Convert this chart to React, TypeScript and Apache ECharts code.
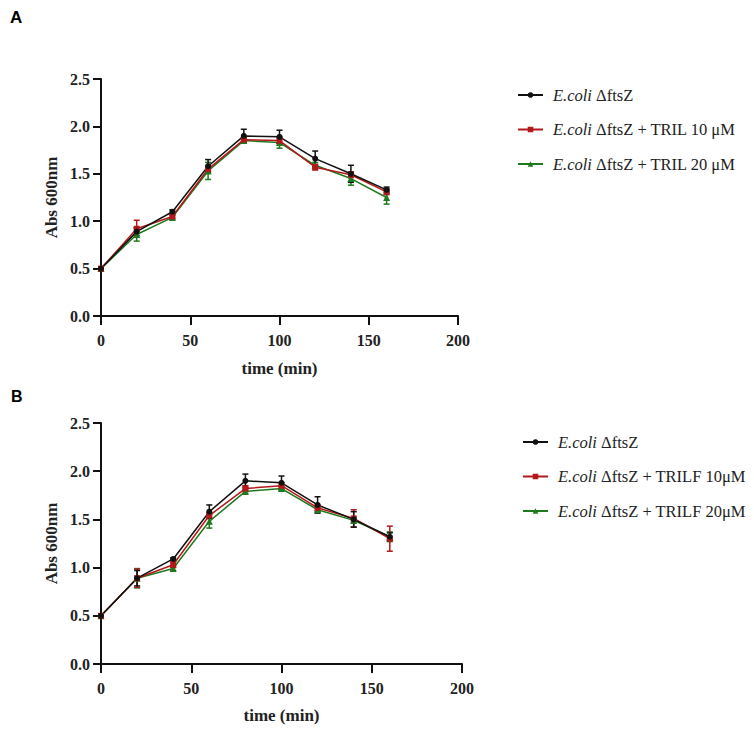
import React, { useEffect, useRef } from "react";
import * as echarts from "echarts";

const times = [0, 20, 40, 60, 80, 100, 120, 140, 160];
const yTicks = [0, 0.5, 1.0, 1.5, 2.0, 2.5];
const xTicks = [0, 50, 100, 150, 200];

// Panel A
const aBlack = [0.5, 0.89, 1.1, 1.58, 1.9, 1.89, 1.66, 1.5, 1.33];
const aBlackErr = [0.01, 0.04, 0.02, 0.07, 0.07, 0.07, 0.08, 0.09, 0.03];
const aRed = [0.5, 0.92, 1.05, 1.55, 1.86, 1.85, 1.57, 1.49, 1.31];
const aRedErr = [0.01, 0.09, 0.02, 0.03, 0.02, 0.03, 0.03, 0.03, 0.03];
const aGreen = [0.5, 0.86, 1.04, 1.53, 1.85, 1.83, 1.59, 1.45, 1.25];
const aGreenErr = [0.01, 0.07, 0.02, 0.09, 0.02, 0.06, 0.03, 0.07, 0.07];

// Panel B
const bBlack = [0.5, 0.89, 1.09, 1.58, 1.9, 1.88, 1.65, 1.5, 1.32];
const bBlackErr = [0.01, 0.08, 0.01, 0.07, 0.07, 0.07, 0.085, 0.08, 0.04];
const bRed = [0.5, 0.89, 1.03, 1.54, 1.82, 1.85, 1.62, 1.51, 1.3];
const bRedErr = [0.01, 0.095, 0.03, 0.03, 0.03, 0.03, 0.03, 0.09, 0.13];
const bGreen = [0.5, 0.89, 0.99, 1.48, 1.79, 1.82, 1.6, 1.49, 1.32];
const bGreenErr = [0.01, 0.1, 0.02, 0.07, 0.02, 0.02, 0.02, 0.03, 0.05];

const legendA = ["ΔftsZ", "ΔftsZ + TRIL 10 μM", "ΔftsZ + TRIL 20 μM"];
const legendB = ["ΔftsZ", "ΔftsZ + TRILF 10μM", "ΔftsZ + TRILF 20μM"];
const species = "E.coli";
const panelLabels = ["A", "B"];
const yName = "Abs 600nm";
const xName = "time (min)";

const BLACK = "#111111";
const RED = "#b3181b";
const GREEN = "#1f7a1f";
const SERIF = "Liberation Serif";

export default function App() {
  const ref = useRef<HTMLDivElement>(null);
  useEffect(() => {
    if (!ref.current) return;
    const chart = echarts.init(ref.current, null, { renderer: "svg" });

    const mkAxisX = (gi: number, gap: number) => ({
      type: "value",
      gridIndex: gi,
      min: xTicks[0],
      max: xTicks[xTicks.length - 1],
      interval: 50,
      name: xName,
      nameLocation: "middle",
      nameGap: gap,
      nameTextStyle: { fontFamily: SERIF, fontWeight: "bold", fontSize: 17, color: "#222" },
      axisLine: { show: true, lineStyle: { color: "#111", width: 2 } },
      axisTick: { show: true, length: 9, lineStyle: { color: "#111", width: 2 } },
      axisLabel: { margin: 16, fontFamily: SERIF, fontWeight: "bold", fontSize: 16, color: "#222" },
      splitLine: { show: false },
    });
    const mkAxisY = (gi: number) => ({
      type: "value",
      gridIndex: gi,
      min: yTicks[0],
      max: yTicks[yTicks.length - 1],
      interval: 0.5,
      name: yName,
      nameLocation: "middle",
      nameGap: 41,
      nameTextStyle: { fontFamily: SERIF, fontWeight: "bold", fontSize: 17, color: "#222" },
      axisLine: { show: true, lineStyle: { color: "#111", width: 2 } },
      axisTick: { show: true, length: 8, lineStyle: { color: "#111", width: 2 } },
      axisLabel: {
        margin: 11,
        fontFamily: SERIF,
        fontWeight: "bold",
        fontSize: 16,
        color: "#222",
        formatter: (v: number) => v.toFixed(1),
      },
      splitLine: { show: false },
    });

    const lineSeries = (name: string, gi: number, vals: number[], color: string, symbol: string, size: number) => ({
      type: "line",
      name,
      xAxisIndex: gi,
      yAxisIndex: gi,
      data: times.map((t, i) => [t, vals[i]]),
      symbol,
      symbolSize: size,
      showAllSymbol: true,
      lineStyle: { color, width: 1.5 },
      itemStyle: { color },
      z: 3,
    });
    const errSeries = (gi: number, vals: number[], errs: number[], color: string) => ({
      type: "custom",
      xAxisIndex: gi,
      yAxisIndex: gi,
      data: times.map((t, i) => [t, vals[i] - errs[i], vals[i] + errs[i]]),
      encode: { x: 0, y: [1, 2] },
      z: 3,
      renderItem: (_p: any, api: any) => {
        const x = api.value(0);
        const lo = api.coord([x, api.value(1)]);
        const hi = api.coord([x, api.value(2)]);
        const w = 3;
        const style = { stroke: color, lineWidth: 1.5 };
        return {
          type: "group",
          children: [
            { type: "line", shape: { x1: lo[0], y1: lo[1], x2: hi[0], y2: hi[1] }, style },
            { type: "line", shape: { x1: lo[0] - w, y1: lo[1], x2: lo[0] + w, y2: lo[1] }, style },
            { type: "line", shape: { x1: hi[0] - w, y1: hi[1], x2: hi[0] + w, y2: hi[1] }, style },
          ],
        };
      },
    });

    const namesA = ["A0", "A1", "A2"];
    const namesB = ["B0", "B1", "B2"];
    const labelMap: Record<string, string> = {};
    namesA.forEach((n, i) => (labelMap[n] = legendA[i]));
    namesB.forEach((n, i) => (labelMap[n] = legendB[i]));

    const legendCommon = {
      orient: "vertical",
      itemWidth: 25,
      itemHeight: 7,
      itemGap: 16.5,
      textStyle: {
        fontFamily: SERIF,
        fontSize: 16.5,
        color: "#222",
        lineHeight: 18,
        padding: [0, 0, 0, 5],
        rich: {
          i: { fontFamily: SERIF, fontSize: 16.5, fontStyle: "italic", color: "#222", lineHeight: 18 },
          n: { fontFamily: SERIF, fontSize: 16.5, color: "#222", lineHeight: 18 },
        },
      },
      formatter: (name: string) => `{i|${species}} {n|${labelMap[name]}}`,
    };

    const option: any = {
      animation: false,
      backgroundColor: "#ffffff",
      graphic: [
        { type: "text", left: 10, top: 9, style: { text: panelLabels[0], font: "bold 17px 'Liberation Sans', Arial, sans-serif", fill: "#000" } },
        { type: "text", left: 11, top: 388, style: { text: panelLabels[1], font: "bold 16px 'Liberation Sans', Arial, sans-serif", fill: "#000" } },
      ],
      grid: [
        { left: 101, top: 79, width: 357, height: 237 },
        { left: 101, top: 423, width: 361, height: 241 },
      ],
      xAxis: [mkAxisX(0, 44), mkAxisX(1, 43)],
      yAxis: [mkAxisY(0), mkAxisY(1)],
      legend: [
        { ...legendCommon, left: 512, top: 81, data: namesA },
        { ...legendCommon, left: 517, top: 428, data: namesB },
      ],
      series: [
        errSeries(0, aGreen, aGreenErr, GREEN),
        lineSeries("A2", 0, aGreen, GREEN, "triangle", 7),
        errSeries(0, aRed, aRedErr, RED),
        lineSeries("A1", 0, aRed, RED, "rect", 6),
        errSeries(0, aBlack, aBlackErr, BLACK),
        lineSeries("A0", 0, aBlack, BLACK, "circle", 6),
        errSeries(1, bGreen, bGreenErr, GREEN),
        lineSeries("B2", 1, bGreen, GREEN, "triangle", 7),
        errSeries(1, bRed, bRedErr, RED),
        lineSeries("B1", 1, bRed, RED, "rect", 6),
        errSeries(1, bBlack, bBlackErr, BLACK),
        lineSeries("B0", 1, bBlack, BLACK, "circle", 6),
      ],
    };
    chart.setOption(option);
    return () => chart.dispose();
  }, []);
  return <div ref={ref} style={{ position: "fixed", left: 0, top: 0, width: 754, height: 732 }} />;
}
